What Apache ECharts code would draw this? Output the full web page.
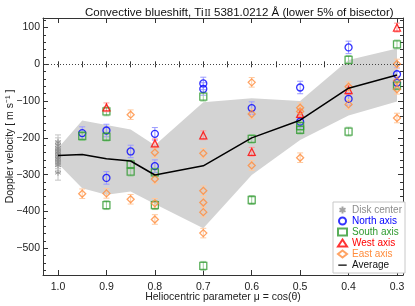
<!DOCTYPE html>
<html><head><meta charset="utf-8">
<script src="https://cdn.jsdelivr.net/npm/echarts@6/dist/echarts.min.js"></script>
<style>html,body{margin:0;padding:0;background:#fff}#c{width:415px;height:306px}</style>
</head><body><div id="c"></div>
<script>
// ---- axis ticks ----
const muTicks = [1.0, 0.9, 0.8, 0.7, 0.6, 0.5, 0.4, 0.3];
const muMinorTicks = [1.0, 0.95, 0.9, 0.85, 0.8, 0.75, 0.7, 0.65, 0.6, 0.55, 0.5, 0.45, 0.4, 0.35, 0.3];
const vTicks = [100, 0, -100, -200, -300, -400, -500];
const vMinorTicks = [120, 100, 80, 60, 40, 20, 0, -20, -40, -60, -80, -100, -120, -140, -160, -180, -200,
  -220, -240, -260, -280, -300, -320, -340, -360, -380, -400, -420, -440, -460, -480, -500, -520, -540, -560];

// ---- data: [mu, velocity] ----
const diskCenter = [[1.0,-212],[1.0,-220],[1.0,-228],[1.0,-233],[1.0,-238],[1.0,-242],[1.0,-246],
  [1.0,-250],[1.0,-254],[1.0,-258],[1.0,-263],[1.0,-268],[1.0,-274],[1.0,-295]];
const north = [[0.95,-187],[0.9,-180],[0.9,-309],[0.85,-237],[0.8,-189],[0.8,-277],[0.7,-52],[0.7,-67],
  [0.6,-119],[0.5,-63],[0.5,-156],[0.4,46],[0.4,-94],[0.3,-27],[0.3,-50]];
const south = [[0.95,-195],[0.9,-128],[0.9,-197],[0.9,-383],[0.85,-272],[0.85,-292],[0.8,-294],[0.8,-383],
  [0.7,-88],[0.7,-548],[0.6,-203],[0.6,-369],[0.5,-168],[0.5,-178],[0.4,12],[0.4,-183],[0.3,54],[0.3,-58]];
const west = [[0.9,-117],[0.8,-215],[0.7,-193],[0.6,-238],[0.5,-135],[0.4,-70],[0.3,100]];
const east = [[0.95,-352],[0.9,-351],[0.85,-137],[0.85,-367],[0.8,-240],[0.8,-312],[0.8,-378],[0.8,-422],
  [0.7,-242],[0.7,-344],[0.7,-376],[0.7,-402],[0.7,-459],[0.6,-49],[0.6,-135],[0.6,-275],
  [0.5,-118],[0.5,-128],[0.5,-254],[0.4,-61],[0.4,-109],[0.3,1],[0.3,-45],[0.3,-68],[0.3,-146]];
const avgMu = [1.0, 0.95, 0.9, 0.85, 0.8, 0.7, 0.6, 0.5, 0.4, 0.3];
const avgV = [-248, -245, -257, -263, -301, -276, -200, -152, -65, -29];
const bandUpper = [-228, -153, -165, -177, -220, -103, -92, -100, 12, 43];
const bandLower = [-270, -337, -355, -346, -380, -446, -301, -206, -139, -101];
// error bar half-lengths (m/s)
const errDisk = 20, errNorth = 17, errSouth = 12, errWest = 12, errEast = 13;

const X_MIN = 0.2876, X_MAX = 1.031, Y_MIN = -573, Y_MAX = 126;
const FONT = 'Liberation Sans, Arial, Helvetica, sans-serif';
const AX = '#333';

const C = {disk:'#8c8c8c', north:'#0000ff', south:'#2f9a2f', west:'#ff0000', east:'#ff8c3c'};
const CL = {disk:'#c4c4c4', north:'#9a9aff', south:'#9fd09f', west:'#ff9c9c', east:'#ffc99e'};

function errRender(err, color) {
  return function (params, api) {
    const x = api.value(0), y = api.value(1);
    const t = api.coord([x, y + err]);
    const b = api.coord([x, y - err]);
    const cx = t[0], w = 3;
    const st = {stroke: color, lineWidth: 1};
    return {type: 'group', children: [
      {type: 'line', shape: {x1: cx, y1: t[1], x2: cx, y2: b[1]}, style: st},
      {type: 'line', shape: {x1: cx - w, y1: t[1], x2: cx + w, y2: t[1]}, style: st},
      {type: 'line', shape: {x1: cx - w, y1: b[1], x2: cx + w, y2: b[1]}, style: st}
    ]};
  };
}
function errSeries(data, err, color) {
  return {type: 'custom', data: data, renderItem: errRender(err, color), encode: {x: 0, y: 1},
    z: 3, silent: true, clip: true};
}
function ptSeries(name, data, symbol, size, color, bw) {
  return {name: name, type: 'scatter', data: data, symbol: symbol, symbolSize: size, z: 4,
    itemStyle: {color: 'rgba(255,255,255,0)', borderColor: color, borderWidth: bw || 1.3}, clip: true};
}

const asterisk = 'path://M5,0 L5,10 M0.7,2.5 L9.3,7.5 M0.7,7.5 L9.3,2.5';
const lineIcon = 'path://M0,0 L0.01,0 Z M0,4.3 L12,4.3 L12,5.9 L0,5.9 Z M0,10 L0.01,10 Z';

const xBase = {type: 'value', min: X_MIN, max: X_MAX, inverse: true, splitLine: {show: false},
  axisLine: {show: true, onZero: false, lineStyle: {color: AX, width: 1}}};
const yBase = {type: 'value', min: Y_MIN, max: Y_MAX, splitLine: {show: false},
  axisLine: {show: true, onZero: false, lineStyle: {color: AX, width: 1}}};
const tickStyle = {color: AX, width: 1};

const option = {
  animation: false,
  backgroundColor: '#fff',
  textStyle: {fontFamily: FONT},
  title: {
    text: '{a|Convective blueshift, Ti}{b|II}{a| 5381.0212 Å (lower 5% of bisector)}',
    left: 80, top: 2,
    textStyle: {fontWeight: 'normal', rich: {
      a: {fontFamily: FONT, fontSize: 11.5, fontWeight: 'normal', color: '#111'},
      b: {fontFamily: 'Liberation Serif, serif', fontSize: 9.5, fontWeight: 'normal', color: '#111', padding: [0, 0, 0, 1]}
    }}
  },
  grid: {left: 43, right: 12, top: 18, bottom: 31, containLabel: false, outerBoundsMode: 'none'},
  legend: {
    orient: 'vertical', left: 333, top: 202, padding: [3, 3, 3, 4],
    backgroundColor: '#fff', borderColor: '#c8c8c8', borderWidth: 1, borderRadius: 0,
    itemWidth: 9, itemHeight: 7, itemGap: 1,
    textStyle: {fontFamily: FONT, fontSize: 10},
    data: [
      {name: 'Disk center', textStyle: {color: C.disk}},
      {name: 'North axis', textStyle: {color: C.north}},
      {name: 'South axis', textStyle: {color: C.south}},
      {name: 'West axis', textStyle: {color: C.west}},
      {name: 'East axis', textStyle: {color: C.east}},
      {name: 'Average', icon: lineIcon, itemStyle: {color: '#000', borderWidth: 0}, textStyle: {color: '#111'}}
    ]
  },
  xAxis: [
    Object.assign({}, xBase, {position: 'bottom',
      axisTick: {inside: true, length: 5, customValues: muTicks, lineStyle: tickStyle},
      axisLabel: {customValues: muTicks, formatter: v => v.toFixed(1), margin: 7, fontSize: 10.5, color: '#222', fontFamily: FONT},
      name: 'Heliocentric parameter μ = cos(θ)', nameLocation: 'middle', nameGap: 17, nameMoveOverlap: false,
      nameTextStyle: {fontSize: 10.5, color: '#222', fontFamily: FONT, verticalAlign: 'top'}}),
    Object.assign({}, xBase, {position: 'bottom', axisLine: {show: false},
      axisTick: {inside: true, length: 3, customValues: muMinorTicks, lineStyle: tickStyle}, axisLabel: {show: false}}),
    Object.assign({}, xBase, {position: 'top',
      axisTick: {inside: true, length: 5, customValues: muTicks, lineStyle: tickStyle}, axisLabel: {show: false}}),
    Object.assign({}, xBase, {position: 'top', axisLine: {show: false},
      axisTick: {inside: true, length: 3, customValues: muMinorTicks, lineStyle: tickStyle}, axisLabel: {show: false}})
  ],
  yAxis: [
    Object.assign({}, yBase, {position: 'left',
      axisTick: {inside: true, length: 5, customValues: vTicks, lineStyle: tickStyle},
      axisLabel: {customValues: vTicks, formatter: v => String(v).replace('-', '\u2212'), margin: 3, fontSize: 10.5, color: '#222', fontFamily: FONT},
      name: 'Doppler velocity [ m s\u207B\u00B9 ]', nameLocation: 'middle', nameGap: 27, nameMoveOverlap: false,
      nameTextStyle: {fontSize: 10.5, color: '#222', fontFamily: FONT}}),
    Object.assign({}, yBase, {position: 'left', axisLine: {show: false},
      axisTick: {inside: true, length: 3, customValues: vMinorTicks, lineStyle: tickStyle}, axisLabel: {show: false}}),
    Object.assign({}, yBase, {position: 'right',
      axisTick: {inside: true, length: 5, customValues: vTicks, lineStyle: tickStyle}, axisLabel: {show: false}}),
    Object.assign({}, yBase, {position: 'right', axisLine: {show: false},
      axisTick: {inside: true, length: 3, customValues: vMinorTicks, lineStyle: tickStyle}, axisLabel: {show: false}})
  ],
  series: [
    {type: 'custom', silent: true, z: 1, data: [0], encode: {x: -1, y: -1},
      renderItem: function (params, api) {
        const pts = [];
        for (let i = 0; i < avgMu.length; i++) pts.push(api.coord([avgMu[i], bandUpper[i]]));
        for (let i = avgMu.length - 1; i >= 0; i--) pts.push(api.coord([avgMu[i], bandLower[i]]));
        return {type: 'polygon', shape: {points: pts}, style: {fill: '#d3d3d3', stroke: null}};
      }},
    errSeries(diskCenter, errDisk, CL.disk),
    errSeries(north, errNorth, CL.north),
    errSeries(south, errSouth, CL.south),
    errSeries(west, errWest, CL.west),
    errSeries(east, errEast, CL.east),
    ptSeries('Disk center', diskCenter, asterisk, 6, C.disk, 1),
    ptSeries('North axis', north, 'circle', 7, C.north),
    ptSeries('South axis', south, 'rect', 7, C.south),
    ptSeries('West axis', west, 'triangle', 7, C.west),
    ptSeries('East axis', east, 'diamond', 7, C.east),
    {name: 'Average', type: 'line', data: avgMu.map((m, i) => [m, avgV[i]]), symbol: 'none', z: 5,
      lineStyle: {color: '#000', width: 1.5}, itemStyle: {color: '#000'},
      markLine: {silent: true, symbol: 'none', label: {show: false},
        lineStyle: {color: '#444', type: [1, 2], width: 1}, data: [{yAxis: 0}]}}
  ]
};
const chart = echarts.init(document.getElementById('c'), null, {renderer: 'canvas'});
chart.setOption(option);
</script></body></html>
